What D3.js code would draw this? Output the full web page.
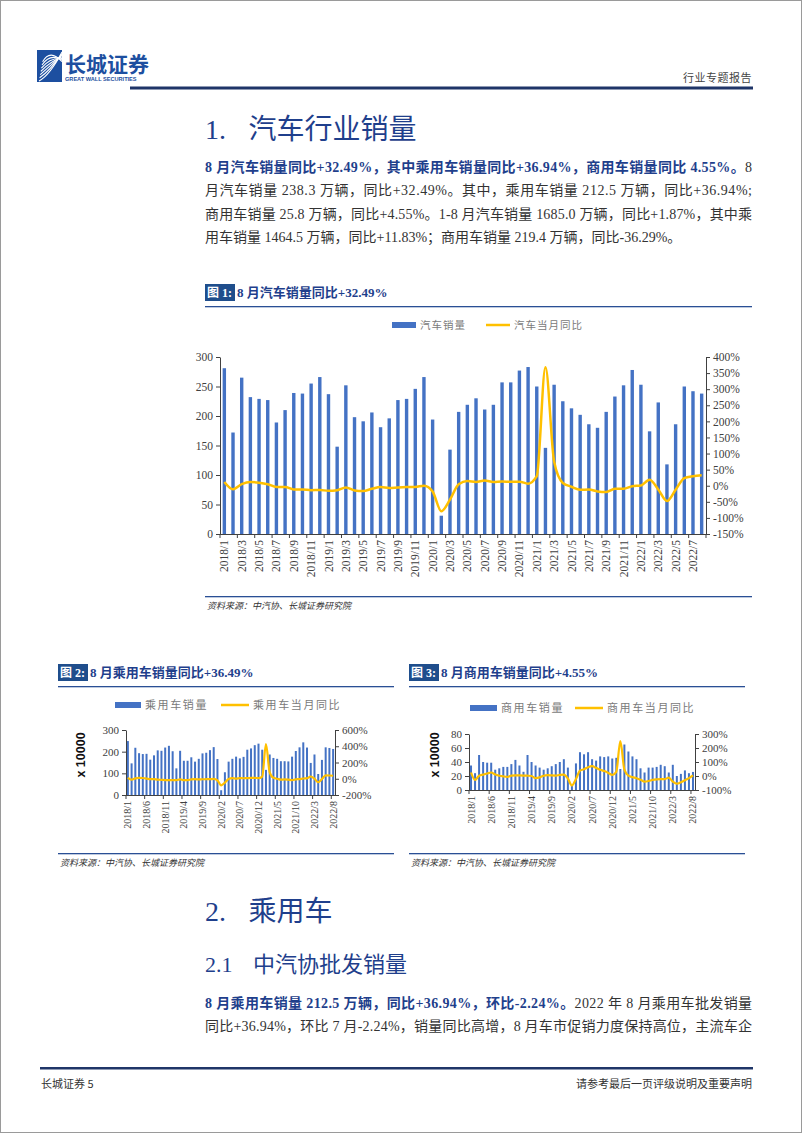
<!DOCTYPE html>
<html><head><meta charset="utf-8">
<script src="https://cdn.jsdelivr.net/npm/d3@7"></script>
<style>body{margin:0;background:#fff}svg{display:block}</style>
</head><body><svg id="page" width="802" height="1133"></svg>
<script>
// ---------------- data ----------------
const months = ["2018/1","2018/2","2018/3","2018/4","2018/5","2018/6","2018/7","2018/8","2018/9","2018/10","2018/11","2018/12",
"2019/1","2019/2","2019/3","2019/4","2019/5","2019/6","2019/7","2019/8","2019/9","2019/10","2019/11","2019/12",
"2020/1","2020/2","2020/3","2020/4","2020/5","2020/6","2020/7","2020/8","2020/9","2020/10","2020/11","2020/12",
"2021/1","2021/2","2021/3","2021/4","2021/5","2021/6","2021/7","2021/8","2021/9","2021/10","2021/11","2021/12",
"2022/1","2022/2","2022/3","2022/4","2022/5","2022/6","2022/7","2022/8"];
// 汽车销量 (万辆)
const autoSales = [281,172,265,232,229,227,189,210,239,238,255,266, 237,148,252,198,191,206,181,196,227,229,246,266,
  194,31,143,207,219,230,211,219,257,257,277,283, 250,146,253,225,213,202,186,180,207,233,252,278,
  253,174,223,118,186,250,242,238];
// 汽车当月同比 (%)
const autoYoy = [11.6,-11.1,4.7,11.5,9.6,4.8,-4.0,-3.8,-11.6,-11.7,-13.9,-13.0, -15.8,-13.8,-5.2,-14.6,-16.4,-9.6,-4.3,-6.9,-5.2,-4.0,-3.6,0.1,
  -18.0,-79.1,-43.3,4.4,14.5,11.6,16.4,11.6,12.8,12.5,12.6,6.4, 29.5,368,74.9,8.6,-3.1,-12.4,-11.9,-17.8,-19.6,-9.4,-9.1,-1.6,
  0.9,18.7,-11.7,-47.6,-12.6,23.8,29.7,32.5];
// 乘用车销量 (万辆)
const pvSales = [249,146,218,193,189,190,163,183,206,204,219,227, 202,123,204,158,158,174,154,167,192,195,207,221,
  166,22,105,154,167,177,169,176,209,215,230,237, 209,116,187,171,167,156,156,155,177,203,220,243,
  219,148,187,97,162,220,217,212.5];
// 乘用车当月同比 (%)
const pvYoy = [12,-11,5.4,11,9.3,2.6,-5.3,-4.8,-11.6,-13,-16.1,-15.8, -17.7,-17.4,-6.9,-17.7,-17.4,-7.8,-5.0,-8.5,-6.3,-5.8,-5.4,-2.5,
  -20.2,-81.7,-48.4,-2.6,7.0,1.8,8.5,6.0,8.0,10.0,11.0,7.2, 26.8,425,77.9,11.1,-0.3,-11.7,-8.5,-11.7,-16.6,-6.8,-3.8,2.8,
  4.4,27.8,0.2,-43.0,-3.4,41.2,40.0,36.9];
// 商用车销量 (万辆)
const cvSales = [35,24,50,40,39,39,29,31,33,33,37,43, 35,26,50,40,35,32,29,31,34,37,40,44,
  32,6,38,54,51,54,44,42,48,47,48,45, 46,30,65,55,48,44,31,25,32,32,33,36,
  34,25,36,20,23,28,24,25.8];
// 商用车当月同比 (%)
const cvYoy = [25,-28,2,10,18,25,10,2,-3,-6,3,5, 4,3,2,0,-15,-10,2,6,4,3,8,10,
  -18,-68,-22,38,48,63,70,58,45,35,22,8, 30,250,45,2,-8,-16,-27,-40,-36,-28,-24,-22,
  -22,-12,-40,-55,-45,-30,-15,4.5];

const mainTicksL = [0,50,100,150,200,250,300];
const mainTicksR = [-150,-100,-50,0,50,100,150,200,250,300,350,400];
const pvTicksL = [0,100,200,300];
const pvTicksR = [-200,0,200,400,600];
const cvTicksL = [0,20,40,60,80];
const cvTicksR = [-100,0,100,200,300];

// ---------------- styles ----------------
const NAVY = "#1f3f8c", BAR = "#4472c4", LINE = "#ffc000";
const SERIF = "'Liberation Serif','Noto Sans CJK SC',serif";
const CJK = "'Noto Sans CJK SC','Liberation Serif',sans-serif";
const svg = d3.select("#page");

svg.append("rect").attr("x",0.5).attr("y",0.5).attr("width",801).attr("height",1132)
  .attr("fill","#fff").attr("stroke","#9a9a9a");

// ---------------- header ----------------
const logo = svg.append("g");
logo.append("rect").attr("x",37).attr("y",50).attr("width",25).attr("height",32).attr("fill","#1d4fa0");
[0,1,2,3,4,5,6].forEach(k=>{
  const y0 = 81 - k*3.2;
  logo.append("path").attr("d",`M${39+k*0.6},${y0} Q${50},${y0-6-k*1.2} ${62},${52+k*1.6}`)
    .attr("fill","none").attr("stroke","#fff").attr("stroke-width",1.1);
});
svg.append("text").attr("x",65).attr("y",72).text("长城证券")
  .attr("font-family",CJK).attr("font-weight","bold").attr("font-size",21).attr("fill","#1d4fa0");
svg.append("text").attr("x",65).attr("y",81).text("GREAT WALL SECURITIES")
  .attr("font-family","'Liberation Sans',sans-serif").attr("font-weight","bold").attr("font-size",5.6).attr("fill","#1d4fa0");
svg.append("text").attr("x",752).attr("y",82).attr("text-anchor","end").text("行业专题报告")
  .attr("font-family",CJK).attr("font-size",11).attr("fill","#444").attr("letter-spacing",0.5);
svg.append("rect").attr("x",130).attr("y",86.5).attr("width",623).attr("height",3).attr("fill","#1f3568");

// ---------------- helpers ----------------
function heading(x,y,num,txt,size){
  const t = svg.append("text").attr("x",x).attr("y",y).attr("fill",NAVY).attr("font-size",size);
  t.append("tspan").attr("font-family",SERIF).text(num);
  t.append("tspan").attr("x",x + size*1.55).attr("font-family",CJK).text(txt);
}
function para(x,y,parts,justifyTo){
  const t = svg.append("text").attr("x",x).attr("y",y).attr("font-size",14).attr("font-family",SERIF);
  parts.forEach(p=>{
    t.append("tspan").text(p[0]).attr("font-weight",p[1]?"bold":"normal").attr("fill",p[1]?NAVY:"#333");
  });
  if(justifyTo){
    const n = t.node().getComputedTextLength();
    const chars = parts.map(p=>p[0]).join("").length;
    const ls = (justifyTo - x - n)/(chars-1);
    t.attr("letter-spacing",ls);
  }
}
function figTitle(x,y,w,num,txt){
  svg.append("rect").attr("x",x).attr("y",y-12).attr("width",30).attr("height",17).attr("fill","#1f4e8c");
  svg.append("text").attr("x",x+2).attr("y",y+1).text(num).attr("fill","#fff")
    .attr("font-family",SERIF).attr("font-weight","bold").attr("font-size",12);
  svg.append("text").attr("x",x+32).attr("y",y+1).text(txt).attr("fill",NAVY)
    .attr("font-family",SERIF).attr("font-weight","bold").attr("font-size",13);
  svg.append("rect").attr("x",x).attr("y",y+10).attr("width",w).attr("height",1.3).attr("fill","#2a4f95");
}
function source(x,y,w){
  svg.append("rect").attr("x",x).attr("y",y-10).attr("width",w).attr("height",1.3).attr("fill","#2a4f95");
  svg.append("text").attr("x",x+2).attr("y",y+3).text("资料来源：中汽协、长城证券研究院")
    .attr("font-family",CJK).attr("font-style","italic").attr("font-size",9).attr("fill","#333");
}
function legend(y, bx, bw, btxt, lx, lw, ltxt, fs, ls){
  svg.append("rect").attr("x",bx).attr("y",y-3).attr("width",bw).attr("height",6).attr("fill",BAR);
  svg.append("text").attr("x",bx+bw+4).attr("y",y+4).text(btxt).attr("font-family",CJK)
    .attr("font-size",fs).attr("fill","#7a7a7a").attr("letter-spacing",ls);
  svg.append("line").attr("x1",lx).attr("x2",lx+lw).attr("y1",y).attr("y2",y).attr("stroke",LINE).attr("stroke-width",2.5);
  svg.append("text").attr("x",lx+lw+4).attr("y",y+4).text(ltxt).attr("font-family",CJK)
    .attr("font-size",fs).attr("fill","#7a7a7a").attr("letter-spacing",ls);
}

function dualChart(o){
  const g = svg.append("g");
  const x = d3.scaleBand().domain(d3.range(months.length)).range([o.x0,o.x1]).padding(0);
  const bw = x.bandwidth();
  const yL = d3.scaleLinear().domain([o.tL[0],o.tL[o.tL.length-1]]).range([o.yb,o.yt]);
  const yR = d3.scaleLinear().domain([o.tR[0],o.tR[o.tR.length-1]]).range([o.yb,o.yt]);
  g.selectAll("rect.b").data(o.bars).join("rect")
    .attr("x",(d,i)=>x(i)+(bw-o.barW)/2).attr("width",o.barW)
    .attr("y",d=>yL(d)).attr("height",d=>yL(0)-yL(d)).attr("fill",BAR);
  const aL = g.append("g").attr("transform",`translate(${o.x0},0)`)
    .call(d3.axisLeft(yL).tickValues(o.tL).tickSize(4).tickPadding(3).tickSizeOuter(0).tickFormat(d=>d));
  const aR = g.append("g").attr("transform",`translate(${o.x1},0)`)
    .call(d3.axisRight(yR).tickValues(o.tR).tickSize(4).tickPadding(3).tickSizeOuter(0).tickFormat(d=>d+"%"));
  [aL,aR].forEach(a=>{
    a.selectAll("path,line").attr("stroke","#404040");
    a.selectAll("text").attr("font-family",SERIF).attr("font-size",o.fs).attr("fill","#404040");
  });
  g.append("line").attr("x1",o.x0).attr("x2",o.x1).attr("y1",o.yb+0.5).attr("y2",o.yb+0.5).attr("stroke","#404040");
  const bTicks = d3.range(0,months.length+1,o.step);
  g.selectAll("line.t").data(bTicks).join("line")
    .attr("x1",d=>o.x0+d*bw).attr("x2",d=>o.x0+d*bw).attr("y1",o.yb).attr("y2",o.yb+4).attr("stroke","#404040");
  g.selectAll("text.c").data(o.labIdx).join("text")
    .attr("transform",d=>`translate(${x(d)+bw/2+o.fsC*0.35},${o.yb+6}) rotate(-90)`)
    .attr("text-anchor","end").text(d=>months[d])
    .attr("font-family",SERIF).attr("font-size",o.fsC).attr("fill","#404040");
  const line = d3.line().x((d,i)=>x(i)+bw/2).y(d=>yR(d)).curve(d3.curveMonotoneX);
  g.append("path").attr("d",line(o.line)).attr("fill","none").attr("stroke",LINE)
    .attr("stroke-width",o.lw).attr("stroke-linejoin","round");
  if(o.ylab){
    g.append("text").attr("transform",`translate(${o.ylab[0]},${o.ylab[1]}) rotate(-90)`)
      .attr("text-anchor","middle").text("x 10000")
      .attr("font-family","'Liberation Sans',sans-serif").attr("font-weight","bold").attr("font-size",12.5).attr("fill","#111");
  }
}

// ---------------- section 1 ----------------
heading(205,139,"1.","汽车行业销量",28);
para(205,172,[["8 月汽车销量同比+32.49%，其中乘用车销量同比+36.94%，商用车销量同比 4.55%。",1],["8",0]],752);
para(205,195,[["月汽车销量 238.3 万辆，同比+32.49%。其中，乘用车销量 212.5 万辆，同比+36.94%;",0]],752);
para(205,219,[["商用车销量 25.8 万辆，同比+4.55%。1-8 月汽车销量 1685.0 万辆，同比+1.87%，其中乘",0]],752);
para(205,242,[["用车销量 1464.5 万辆，同比+11.83%；商用车销量 219.4 万辆，同比-36.29%。",0]],null);

figTitle(205,296,547,"图 1:","8 月汽车销量同比+32.49%");
legend(325, 392, 24, "汽车销量", 486, 24, "汽车当月同比", 10.5, 1);
dualChart({x0:220,x1:706,yt:357,yb:534,tL:mainTicksL,tR:mainTicksR,bars:autoSales,line:autoYoy,
  barW:3.4,fs:11.5,fsC:11.5,step:2,labIdx:d3.range(0,months.length,2),lw:2.5});
source(205,606,547);

// ---------------- figures 2 & 3 ----------------
figTitle(58,676,336,"图 2:","8 月乘用车销量同比+36.49%");
figTitle(409,676,336,"图 3:","8 月商用车销量同比+4.55%");
legend(705, 115, 26, "乘用车销量", 221, 28, "乘用车当月同比", 11, 1.6);
legend(708, 470, 27, "商用车销量", 575, 28, "商用车当月同比", 11, 1.6);
dualChart({x0:126,x1:335,yt:730,yb:795,tL:pvTicksL,tR:pvTicksR,bars:pvSales,line:pvYoy,
  barW:2,fs:11,fsC:10,step:5,labIdx:d3.range(0,months.length,5),lw:2.2,ylab:[85,755]});
dualChart({x0:469,x1:695,yt:734,yb:790,tL:cvTicksL,tR:cvTicksR,bars:cvSales,line:cvYoy,
  barW:2,fs:11,fsC:10,step:5,labIdx:d3.range(0,months.length,5),lw:2.2,ylab:[439,755]});
source(58,863,336);
source(409,863,336);

// ---------------- section 2 ----------------
heading(205,921,"2.","乘用车",28);
const h2 = svg.append("text").attr("x",205).attr("y",972).attr("fill",NAVY).attr("font-size",22);
h2.append("tspan").attr("font-family",SERIF).text("2.1");
h2.append("tspan").attr("x",253).attr("font-family",CJK).text("中汽协批发销量");
para(205,1008,[["8 月乘用车销量 212.5 万辆，同比+36.94%，环比-2.24%。",1],["2022 年 8 月乘用车批发销量",0]],752);
para(205,1031,[["同比+36.94%，环比 7 月-2.24%，销量同比高增，8 月车市促销力度保持高位，主流车企",0]],752);

// ---------------- footer ----------------
svg.append("rect").attr("x",40).attr("y",1067).attr("width",713).attr("height",2.5).attr("fill","#1f3568");
svg.append("text").attr("x",41).attr("y",1088).text("长城证券 5").attr("font-family",CJK).attr("font-size",11).attr("fill","#333");
svg.append("text").attr("x",752).attr("y",1088).attr("text-anchor","end").text("请参考最后一页评级说明及重要声明")
  .attr("font-family",CJK).attr("font-size",11).attr("fill","#333");
</script></body></html>
